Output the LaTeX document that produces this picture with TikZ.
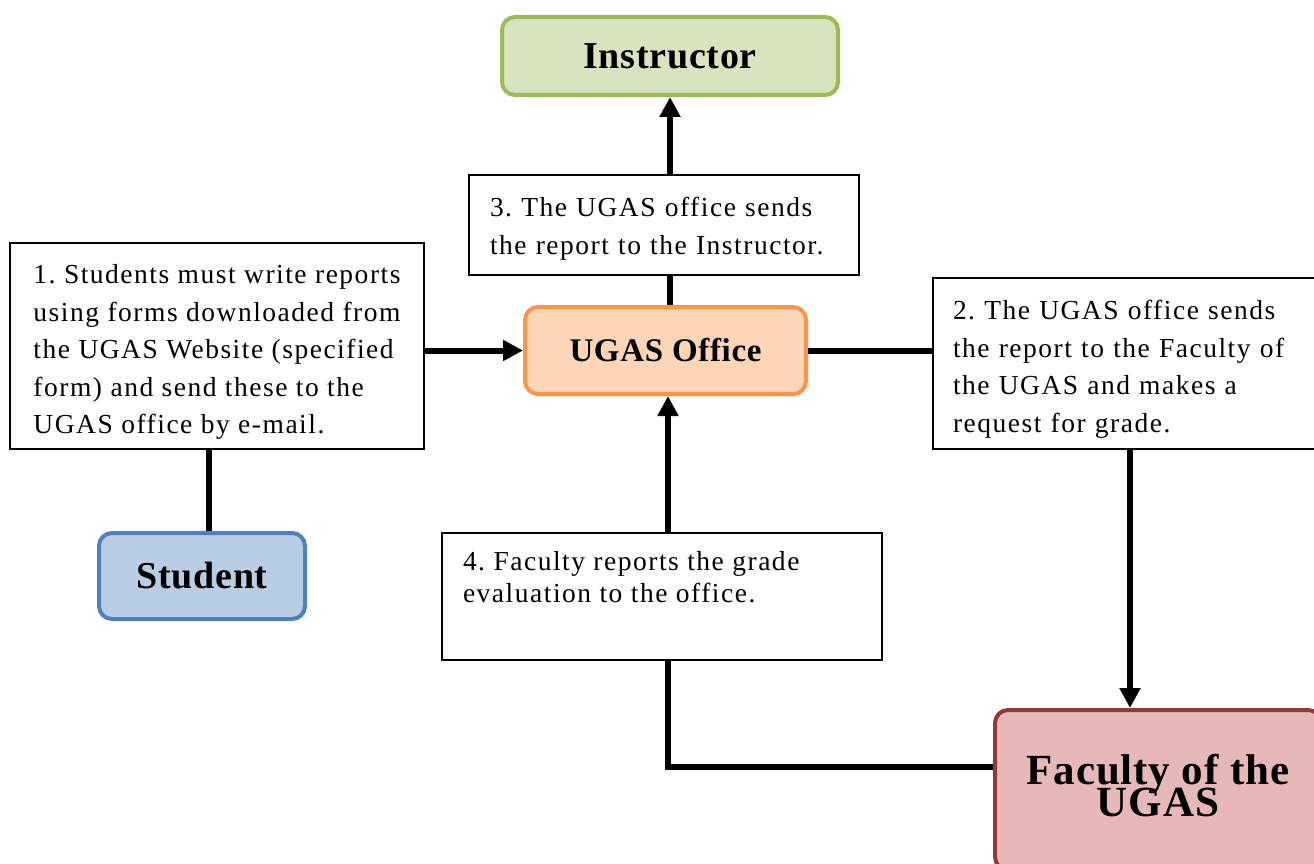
\documentclass[tikz,border=0pt]{standalone}
\usepackage{fontspec}
\setmainfont{Liberation Serif}[LetterSpace=5.5]
\newfontfamily\titlefont{Liberation Serif}[LetterSpace=2]
\usetikzlibrary{arrows.meta}
\newcommand\tightlines{\lineskiplimit=-100pt\relax}
\newcommand\topstrut{\rule{0pt}{31pt}}
\definecolor{instrfill}{HTML}{D7E4BD}
\definecolor{instrline}{HTML}{9BBB59}
\definecolor{ugasfill}{HTML}{FBD5B5}
\definecolor{ugasline}{HTML}{F79646}
\definecolor{studfill}{HTML}{B9CDE5}
\definecolor{studline}{HTML}{4F81BD}
\definecolor{facfill}{HTML}{E6B9B8}
\definecolor{facline}{HTML}{953735}
\begin{document}
\frenchspacing
\begin{tikzpicture}[x=1pt,y=-1pt,
  txtbox/.style={draw=black, line width=1.8pt, fill=white, inner sep=0pt, align=left,
    font=\fontsize{27.5}{37.5}\selectfont},
  rbox/.style={rounded corners=13pt, line width=4pt, inner sep=0pt, align=center},
  ttl/.style={font=\titlefont\bfseries\fontsize{#1}{#1}\selectfont},
  conn/.style={line width=6pt},
  arr/.style={conn, -{Triangle[length=20pt,width=20pt]}}]
\useasboundingbox (0,0) rectangle (1314,864);
\clip (0,0) rectangle (1314,864);
\fill[white] (0,0) rectangle (1314,864);

% main boxes
\node[rbox, draw=instrline, fill=instrfill, minimum width=336, minimum height=78, ttl=38] (instr) at (670,56) {Instructor};
\node[rbox, draw=ugasline, fill=ugasfill, minimum width=281, minimum height=87, ttl=33] (ugas) at (665.5,350.5) {UGAS Office};
\node[rbox, draw=studline, fill=studfill, minimum width=206, minimum height=86, ttl=38] (stud) at (202,576) {Student};
\node[rbox, draw=facline, fill=facfill, minimum width=326, minimum height=160,
  font=\titlefont\bfseries\fontsize{43}{32}\selectfont\tightlines] (fac) at (1158,790)
  {Faculty of the\\UGAS\rule[-10pt]{0pt}{10pt}};

% text boxes
\node[txtbox, minimum width=414, minimum height=206] (b1) at (217,346)
  {\topstrut 1. Students must write reports\\using forms downloaded from\\the UGAS Website (specified\\form) and send these to the\\UGAS office by e-mail.};
\node[txtbox, minimum width=394, minimum height=171, text width=354] (b2) at (1130,363.5)
  {\topstrut 2. The UGAS office sends\\the report to the Faculty of\\the UGAS and makes a\\request for grade.};
\node[txtbox, minimum width=390, minimum height=100, text width=348] (b3) at (664,225)
  {\rule{0pt}{27pt}3. The UGAS office sends\\the report to the Instructor.};
\node[txtbox, minimum width=440, minimum height=127] (b4) at (662,596.5)
  {\parbox[c][127pt][t]{398pt}{\raggedright\fontsize{27.5}{32}\selectfont\rule{0pt}{37pt}4. Faculty reports the grade\\evaluation to the office.}};

% connectors
\coordinate (sx) at (209,0);
\coordinate (fj) at (668,767);
\draw[conn] (stud.north -| sx) -- (b1.south -| sx);
\draw[arr] (b1.east |- ugas.west) -- (ugas.west);
\draw[conn] (ugas.east) -- (ugas.east -| b2.west);
\draw[arr] (b2.south) -- (b2.south |- fac.north);
\draw[conn] (fac.west |- fj) -- (fj) -- (b4.south -| fj);
\draw[arr] (b4.north -| fj) -- (ugas.south -| fj);
\draw[conn] (ugas.north -| instr) -- (b3.south -| instr);
\draw[arr] (b3.north -| instr) -- (instr.south);
\end{tikzpicture}
\end{document}
